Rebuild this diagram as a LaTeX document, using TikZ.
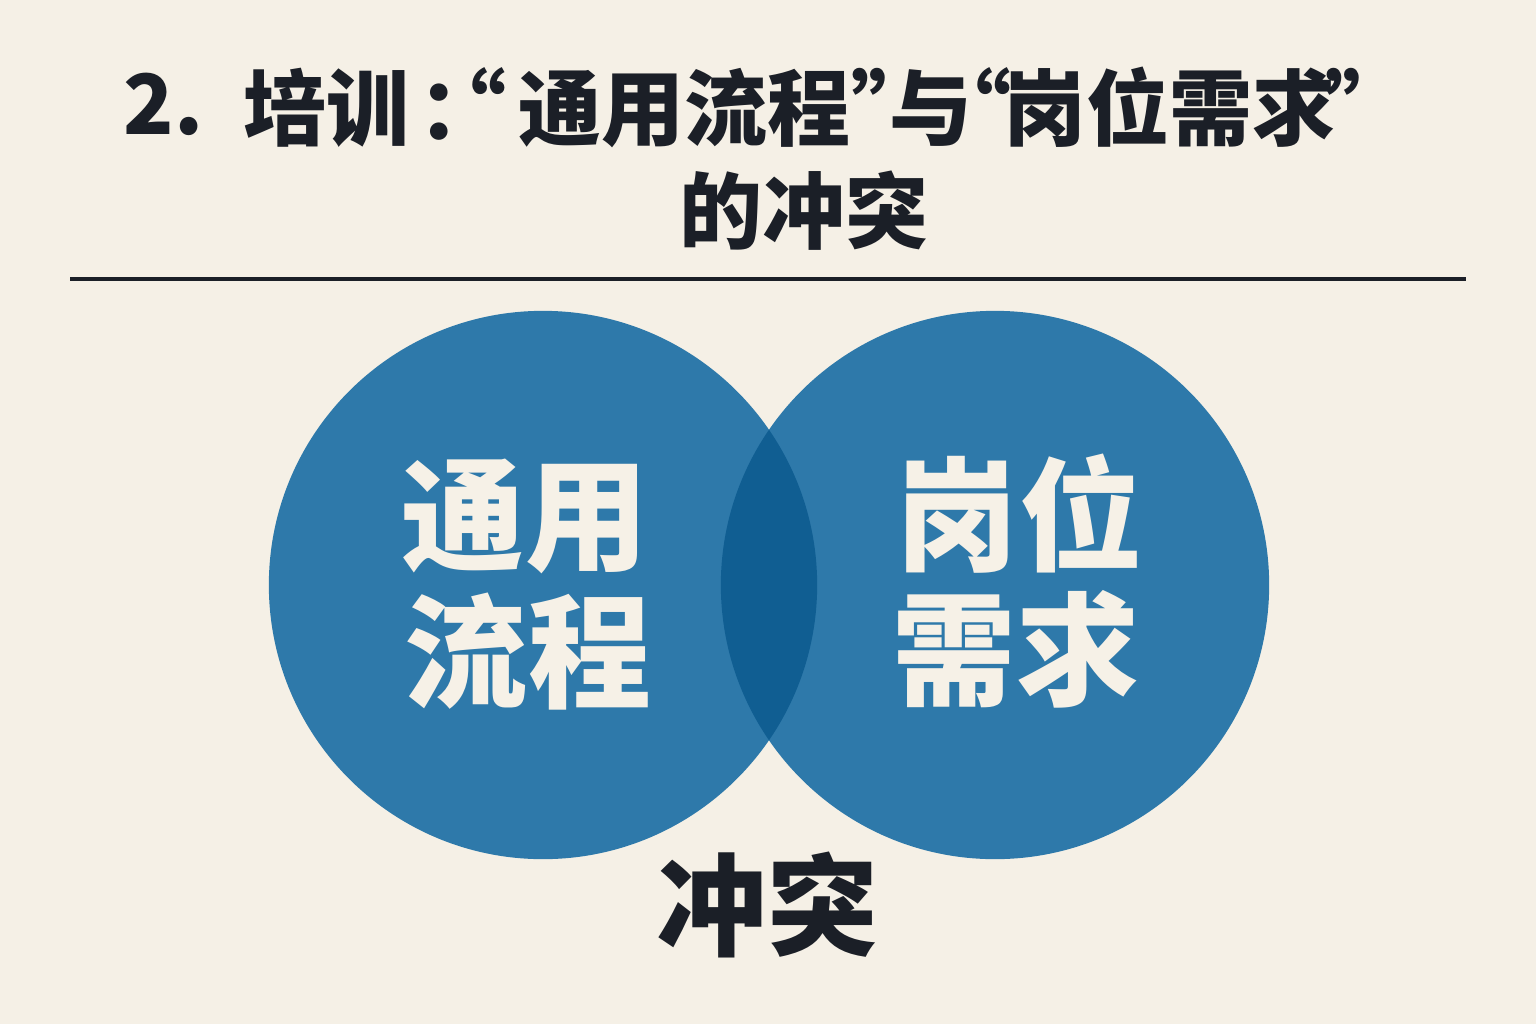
\documentclass[tikz,border=0pt]{standalone}
\usepackage{fontspec}
\newfontfamily\cjk{Noto Sans CJK SC}
\definecolor{bg}{HTML}{F5F0E6}
\definecolor{circblue}{HTML}{2E79AA}
\definecolor{overlapblue}{HTML}{105E92}
\definecolor{ink}{HTML}{1B1F27}
\definecolor{paper}{HTML}{F6F1E7}
\tikzset{
  circ/.style={circle, fill=circblue, minimum size=5.48cm, inner sep=0pt},
  titletext/.style={text=ink, inner sep=0pt, anchor=base, font=\cjk\bfseries\fontsize{23.6}{28}\selectfont},
  punct/.style={titletext, font=\cjk\bfseries\fontsize{23.6}{28}\selectfont\addfontfeature{CharacterWidth=AlternateHalf}},
  intext/.style={text=paper, inner sep=0pt, anchor=base, font=\cjk\bfseries\fontsize{35}{40}\selectfont},
  conflict/.style={text=ink, inner sep=0pt, anchor=base, font=\cjk\bfseries\fontsize{31.5}{36}\selectfont},
  rule/.style={draw=ink, line width=1.0pt}
}
\begin{document}
\begin{tikzpicture}[x=0.01cm,y=-0.01cm]
\useasboundingbox (0,0) rectangle (1536,1024);
\fill[bg] (0,0) rectangle (1536,1024);
% title line 1, piece by piece
\node[titletext] (n2)  at (163.5,134) {2.};
\node[titletext] (pxn) at (326.5,139) {培训};
\node[punct]     (col) at (439,139) {：};
\node[punct]     (q1)  at (486,139) {“};
\node[titletext] (tylc) at (684.5,139) {通用流程};
\node[punct]     (q2)  at (872.5,139) {”};
\node[titletext] (yu)  at (931,139) {与};
\node[punct]     (q3)  at (991,139) {“};
\node[titletext] (gwxq) at (1169,139) {岗位需求};
\node[punct]     (q4)  at (1346.5,139) {”};
% title line 2
\node[titletext] (t2) at (803.5,242) {的冲突};
\coordinate (r1) at (70,279);
\coordinate (r2) at (1466,279);
\draw[rule] (r1) -- (r2);
\node[circ] (L) at (543,585) {};
\node[circ] (R) at (995,585) {};
\begin{scope}
  \clip (L.center) circle [radius=2.74cm];
  \fill[overlapblue] (R.center) circle [radius=2.74cm];
\end{scope}
\node[intext] (lt1) at (525,561) {通用};
\node[intext] (lt2) at (528,698) {流程};
\node[intext] (rt1) at (1019,561) {岗位};
\node[intext] (rt2) at (1016,696) {需求};
\node[conflict] (c) at (767.5,947) {冲突};
\end{tikzpicture}
\end{document}
